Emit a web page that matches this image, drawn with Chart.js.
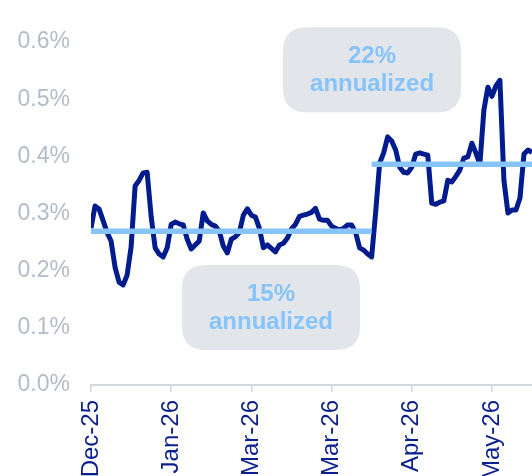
<!DOCTYPE html>
<html>
<head>
<meta charset="utf-8">
<script src="https://cdn.jsdelivr.net/npm/chart.js@4.4.1/dist/chart.umd.min.js"></script>
<style>
    html, body { margin: 0; padding: 0; background: #fff; overflow: hidden; }
    #wrap { position: relative; width: 532px; height: 476px; }
</style>
</head>
<body>
<div id="wrap"><canvas id="chart"></canvas></div>
<script>
// tick labels on the x axis, one every 20 observations
const tickLabels = ['Dec-25', 'Jan-26', 'Mar-26', 'Mar-26', 'Apr-26', 'May-26'];

// daily return (%)
const dailyValues = [
    0.274, 0.313, 0.308, 0.288, 0.267, 0.252, 0.206, 0.180, 0.175, 0.192,
    0.241, 0.348, 0.358, 0.371, 0.372, 0.295, 0.240, 0.229, 0.224, 0.240,
    0.281, 0.285, 0.282, 0.280, 0.255, 0.238, 0.245, 0.252, 0.301, 0.287,
    0.281, 0.278, 0.269, 0.243, 0.231, 0.255, 0.259, 0.267, 0.297, 0.308,
    0.297, 0.294, 0.274, 0.240, 0.245, 0.239, 0.233, 0.245, 0.248, 0.257,
    0.273, 0.281, 0.295, 0.297, 0.299, 0.302, 0.309, 0.290, 0.288, 0.288,
    0.278, 0.274, 0.271, 0.274, 0.280, 0.280, 0.267, 0.240, 0.236, 0.229,
    0.224, 0.302, 0.388, 0.406, 0.434, 0.427, 0.411, 0.381, 0.372, 0.371,
    0.381, 0.404, 0.406, 0.404, 0.402, 0.318, 0.316, 0.320, 0.322, 0.358,
    0.355, 0.365, 0.376, 0.397, 0.399, 0.423, 0.406, 0.386, 0.481, 0.521,
    0.505, 0.523, 0.533, 0.358, 0.301, 0.306, 0.306, 0.327, 0.404, 0.411,
    0.407
];

// period averages
const periodAverages = [0.269, 0.386];
const periodStarts = [0, 70];
const periodEnds = [70, 110];
const annualizedRates = ['15%', '22%'];

const FONT = "'Liberation Sans', Arial, sans-serif";

// rounded grey boxes with the annualized rate
const noteBoxes = {
    id: 'noteBoxes',
    beforeDatasetsDraw(chart, args, opts) {
        const { ctx, scales } = chart;
        opts.items.forEach(item => {
            const cx = scales.x.getPixelForValue(item.x);
            const cy = scales.y.getPixelForValue(item.y);
            const w = opts.width, h = opts.height, r = opts.radius;
            const x0 = cx - w / 2, y0 = cy - h / 2;
            ctx.save();
            ctx.beginPath();
            ctx.moveTo(x0 + r, y0);
            ctx.lineTo(x0 + w - r, y0);
            ctx.quadraticCurveTo(x0 + w, y0, x0 + w, y0 + r);
            ctx.lineTo(x0 + w, y0 + h - r);
            ctx.quadraticCurveTo(x0 + w, y0 + h, x0 + w - r, y0 + h);
            ctx.lineTo(x0 + r, y0 + h);
            ctx.quadraticCurveTo(x0, y0 + h, x0, y0 + h - r);
            ctx.lineTo(x0, y0 + r);
            ctx.quadraticCurveTo(x0, y0, x0 + r, y0);
            ctx.closePath();
            ctx.fillStyle = opts.fill;
            ctx.fill();
            ctx.fillStyle = opts.color;
            ctx.font = 'bold 24px ' + FONT;
            ctx.textAlign = 'center';
            ctx.textBaseline = 'middle';
            item.text.forEach((line, i) => {
                ctx.fillText(line, cx, cy + (i - (item.text.length - 1) / 2) * 28 + 1);
            });
            ctx.restore();
        });
    }
};

const avgSets = periodAverages.map((v, k) => ({
    data: [{ x: periodStarts[k], y: v }, { x: periodEnds[k], y: v }],
    borderColor: '#86c4fb',
    borderWidth: 5.5,
    pointRadius: 0,
    order: 0
}));

new Chart(document.getElementById('chart'), {
    type: 'line',
    data: {
        datasets: [
            ...avgSets,
            {
                data: dailyValues.map((v, i) => ({ x: i, y: v })),
                borderColor: '#021b8d',
                borderWidth: 5,
                borderJoinStyle: 'round',
                pointRadius: 0,
                tension: 0,
                order: 1
            }
        ]
    },
    options: {
        responsive: true,
        maintainAspectRatio: false,
        animation: false,
        layout: { padding: { top: 42, left: 0, right: 0, bottom: 0 } },
        plugins: {
            legend: { display: false },
            tooltip: { enabled: false },
            noteBoxes: {
                width: 178,
                height: 85,
                radius: 24,
                fill: '#e2e5e9',
                color: '#86c4fb',
                items: [
                    { x: 44.9, y: 0.1355, text: [annualizedRates[0], 'annualized'] },
                    { x: 70.1, y: 0.5515, text: [annualizedRates[1], 'annualized'] }
                ]
            }
        },
        scales: {
            x: {
                type: 'linear',
                min: 0,
                max: dailyValues.length - 1,
                afterBuildTicks: scale => {
                    scale.ticks = tickLabels.map((_, k) => ({ value: k * 20 }));
                },
                afterFit: scale => { scale.height = 91; },
                ticks: {
                    autoSkip: false,
                    minRotation: 90,
                    maxRotation: 90,
                    padding: 8,
                    color: '#0b1f8e',
                    font: { family: FONT, size: 24 },
                    callback: (v, i) => tickLabels[i]
                },
                grid: {
                    display: true,
                    drawOnChartArea: false,
                    drawTicks: true,
                    tickLength: 7,
                    color: '#d3d8de',
                    lineWidth: 1.5
                },
                border: { display: true, color: '#d3d8de', width: 2 }
            },
            y: {
                min: 0,
                max: 0.6,
                afterFit: scale => { scale.width = 91; },
                ticks: {
                    stepSize: 0.1,
                    padding: 21,
                    color: '#b3bcc7',
                    font: { family: FONT, size: 23 },
                    callback: v => v.toFixed(1) + '%'
                },
                grid: { display: false, drawTicks: false },
                border: { display: false }
            }
        }
    },
    plugins: [noteBoxes]
});
</script>
</body>
</html>
